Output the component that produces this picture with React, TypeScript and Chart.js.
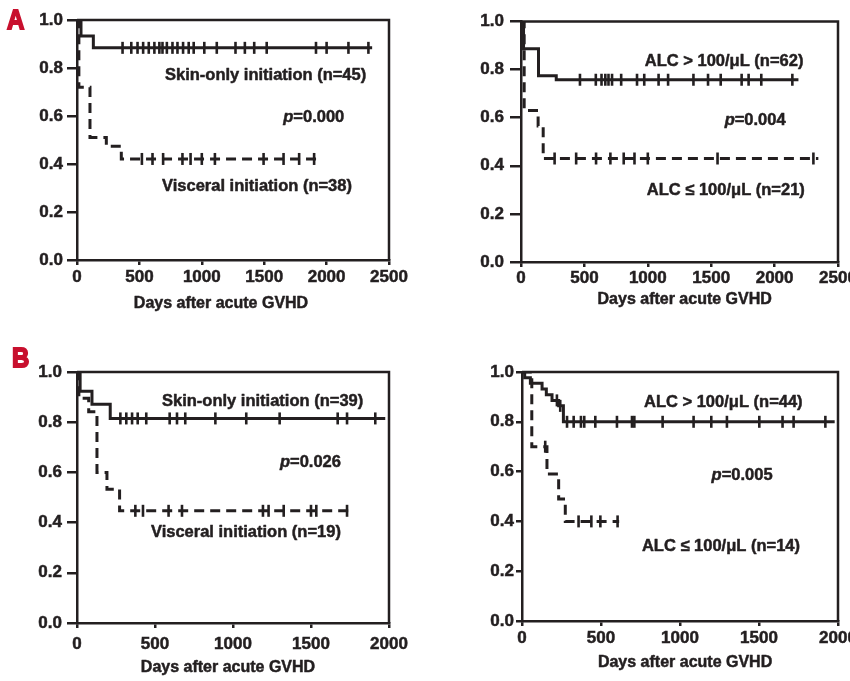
import React, { useEffect, useRef } from 'react';
import { Chart, registerables } from 'chart.js';

Chart.register(...registerables);

const INK = '#231f20';
const RED = '#c8102e';
const FONT = "'Liberation Sans', Arial, sans-serif";

// ---------------- data: panel A, left (initiation site) ----------------
const aSkinTimes = [0, 32, 131, 2365];
const aSkinSurv = [1.0, 0.933, 0.884, 0.884];
const aSkinCensored = [365, 435, 485, 530, 575, 620, 660, 685, 720, 765, 805, 850, 895, 935, 1020, 1120, 1270, 1345, 1420, 1520, 1915, 2000, 2175, 2335];
const aVisTimes = [0, 15, 104, 235, 355, 1945];
const aVisSurv = [1.0, 0.72, 0.51, 0.474, 0.421, 0.421];
const aVisCensored = [520, 605, 690, 845, 910, 1000, 1105, 1495, 1655, 1780, 1900];

// ---------------- data: panel A, right (ALC) ----------------
const aHiTimes = [0, 20, 138, 278, 2188];
const aHiSurv = [1.0, 0.887, 0.774, 0.758, 0.758];
const aHiCensored = [465, 590, 635, 665, 690, 718, 790, 915, 972, 1085, 1160, 1360, 1475, 1575, 1740, 1795, 1895, 2140];
const aLoTimes = [0, 25, 135, 175, 2345];
const aLoSurv = [1.0, 0.63, 0.565, 0.43, 0.43];
const aLoCensored = [265, 435, 592, 705, 810, 895, 1000, 1550, 2306];

// ---------------- data: panel B, left (initiation site) ----------------
const bSkinTimes = [0, 20, 96, 213, 1976];
const bSkinSurv = [1.0, 0.923, 0.872, 0.815, 0.815];
const bSkinCensored = [278, 316, 353, 389, 444, 594, 641, 694, 887, 1085, 1299, 1671, 1731, 1912];
const bVisTimes = [0, 12, 75, 128, 192, 273, 1761];
const bVisSurv = [1.0, 0.895, 0.842, 0.6, 0.533, 0.447, 0.447];
const bVisCensored = [374, 423, 587, 673, 1192, 1228, 1325, 1500, 1534, 1731];

// ---------------- data: panel B, right (ALC) ----------------
const bHiTimes = [0, 17, 53, 127, 154, 190, 232, 262, 1979];
const bHiSurv = [1.0, 0.977, 0.955, 0.932, 0.909, 0.886, 0.864, 0.8, 0.8];
const bHiCensored = [221, 242, 285, 327, 373, 394, 464, 601, 696, 711, 890, 1086, 1198, 1297, 1502, 1649, 1719, 1920];
const bLoTimes = [0, 62, 158, 232, 274, 615];
const bLoSurv = [1.0, 0.7, 0.59, 0.49, 0.4, 0.4];
const bLoCensored = [147, 358, 439, 496, 605];

// ---------------- ticks & text ----------------
const xTicks2500 = [0, 500, 1000, 1500, 2000, 2500];
const xTicks2000 = [0, 500, 1000, 1500, 2000];
const yTicks = [0, 0.2, 0.4, 0.6, 0.8, 1.0];
const xTitle = 'Days after acute GVHD';
const labelsInitA = ['Skin-only initiation (n=45)', 'Visceral initiation (n=38)'];
const labelsAlcA = ['ALC > 100/\u03BCL (n=62)', 'ALC \u2264 100/\u03BCL (n=21)'];
const labelsInitB = ['Skin-only initiation (n=39)', 'Visceral initiation (n=19)'];
const labelsAlcB = ['ALC > 100/\u03BCL (n=44)', 'ALC \u2264 100/\u03BCL (n=14)'];
const pValues = ['0.000', '0.004', '0.026', '0.005'];

function survAt(times: number[], surv: number[], t: number) {
  let s = surv[0];
  for (let i = 0; i < times.length; i++) if (times[i] <= t) s = surv[i];
  return s;
}

function curve(times: number[], surv: number[], dashed: boolean) {
  return {
    type: 'line',
    data: times.map((t, i) => ({ x: t, y: surv[i] })),
    stepped: 'before',
    borderColor: INK,
    borderWidth: 3,
    borderDash: dashed ? [10, 6] : [],
    borderCapStyle: 'butt',
    borderJoinStyle: 'miter',
    pointRadius: 0,
    fill: false,
    tension: 0,
  };
}

function censor(times: number[], surv: number[], cens: number[]) {
  return {
    type: 'scatter',
    data: cens.map((t) => ({ x: t, y: survAt(times, surv, t) })),
    showLine: false,
    pointStyle: 'line',
    pointRotation: 90,
    pointRadius: 6,
    pointBorderWidth: 2.6,
    pointBorderColor: INK,
    pointBackgroundColor: INK,
  };
}

type Note = { text: string; x: number; y: number; p?: boolean };

type Spec = {
  key: string;
  left: number; top: number; w: number; h: number;
  yW: number; xH: number; padTop: number; padRight: number;
  xMax: number; xTicks: number[];
  yTickLen: number; yPad: number; xTickLen: number; xPad: number;
  datasets: any[];
  notes: Note[];
  titleX: number; titleDy: number;
  letter?: string; letterX?: number; letterY?: number;
};

const specs: Spec[] = [
  {
    key: 'A1', left: 0, top: 0, w: 425, h: 340,
    yW: 77, xH: 80, padTop: 20, padRight: 36,
    xMax: 2500, xTicks: xTicks2500,
    yTickLen: 10, yPad: 4, xTickLen: 5, xPad: 2,
    datasets: [
      curve(aVisTimes, aVisSurv, true), censor(aVisTimes, aVisSurv, aVisCensored),
      curve(aSkinTimes, aSkinSurv, false), censor(aSkinTimes, aSkinSurv, aSkinCensored),
    ],
    notes: [
      { text: labelsInitA[0], x: 705, y: 0.767 },
      { text: pValues[0], x: 1653, y: 0.592, p: true },
      { text: labelsInitA[1], x: 681, y: 0.308 },
    ],
    titleX: 1154, titleDy: 44,
    letter: 'A', letterX: 6, letterY: 30,
  },
  {
    key: 'A2', left: 425, top: 0, w: 440, h: 340,
    yW: 96, xH: 78, padTop: 21.5, padRight: 27,
    xMax: 2500, xTicks: xTicks2500,
    yTickLen: 11, yPad: 6, xTickLen: 5, xPad: 1,
    datasets: [
      curve(aLoTimes, aLoSurv, true), censor(aLoTimes, aLoSurv, aLoCensored),
      curve(aHiTimes, aHiSurv, false), censor(aHiTimes, aHiSurv, aHiCensored),
    ],
    notes: [
      { text: labelsAlcA[0], x: 976, y: 0.833 },
      { text: pValues[1], x: 1606, y: 0.59, p: true },
      { text: labelsAlcA[1], x: 992, y: 0.296 },
    ],
    titleX: 1291, titleDy: 38,
  },
  {
    key: 'B1', left: 0, top: 340, w: 425, h: 341,
    yW: 77, xH: 58, padTop: 32, padRight: 36,
    xMax: 2000, xTicks: xTicks2000,
    yTickLen: 10, yPad: 5, xTickLen: 5, xPad: 6,
    datasets: [
      curve(bVisTimes, bVisSurv, true), censor(bVisTimes, bVisSurv, bVisCensored),
      curve(bSkinTimes, bSkinSurv, false), censor(bSkinTimes, bSkinSurv, bSkinCensored),
    ],
    notes: [
      { text: labelsInitB[0], x: 545, y: 0.884 },
      { text: pValues[2], x: 1301, y: 0.639, p: true },
      { text: labelsInitB[1], x: 474, y: 0.359 },
    ],
    titleX: 968, titleDy: 44.7,
    letter: 'B', letterX: 11, letterY: 28,
  },
  {
    key: 'B2', left: 425, top: 340, w: 440, h: 341,
    yW: 97, xH: 60, padTop: 32, padRight: 27,
    xMax: 2000, xTicks: xTicks2000,
    yTickLen: 6, yPad: 2, xTickLen: 5, xPad: 2,
    datasets: [
      curve(bLoTimes, bLoSurv, true), censor(bLoTimes, bLoSurv, bLoCensored),
      curve(bHiTimes, bHiSurv, false), censor(bHiTimes, bHiSurv, bHiCensored),
    ],
    notes: [
      { text: labelsAlcB[0], x: 772, y: 0.877 },
      { text: pValues[3], x: 1200, y: 0.586, p: true },
      { text: labelsAlcB[1], x: 759, y: 0.298 },
    ],
    titleX: 1032, titleDy: 42,
  },
];

const NOTE_SIZE = 16.5;
const TICK_SIZE = 17;
const TITLE_SIZE = 16;

function heavyText(ctx: CanvasRenderingContext2D, text: string, x: number, y: number) {
  ctx.fillText(text, x, y);
  ctx.strokeText(text, x, y);
}

function buildConfig(spec: Spec): any {
  const decor = {
    id: 'decor',
    afterDraw(chart: any) {
      const { ctx, chartArea: a, scales } = chart;
      const xs = scales.x;
      const ys = scales.y;
      ctx.save();
      // top/right frame
      ctx.strokeStyle = INK;
      ctx.lineWidth = 2.5;
      ctx.beginPath();
      ctx.moveTo(a.left, a.top);
      ctx.lineTo(a.right, a.top);
      ctx.lineTo(a.right, a.bottom);
      ctx.stroke();
      // notes
      ctx.fillStyle = INK;
      ctx.strokeStyle = INK;
      ctx.lineWidth = 0.5;
      ctx.lineJoin = 'round';
      ctx.textBaseline = 'middle';
      ctx.textAlign = 'left';
      for (const n of spec.notes) {
        const px = xs.getPixelForValue(n.x);
        const py = ys.getPixelForValue(n.y);
        if (n.p) {
          ctx.font = `italic bold ${NOTE_SIZE}px ${FONT}`;
          heavyText(ctx, 'p', px, py);
          const w = ctx.measureText('p').width;
          ctx.font = `bold ${NOTE_SIZE}px ${FONT}`;
          heavyText(ctx, '=' + n.text, px + w, py);
        } else {
          ctx.font = `bold ${NOTE_SIZE}px ${FONT}`;
          heavyText(ctx, n.text, px, py);
        }
      }
      // axis title
      ctx.font = `bold ${TITLE_SIZE}px ${FONT}`;
      ctx.textAlign = 'center';
      heavyText(ctx, xTitle, xs.getPixelForValue(spec.titleX), a.bottom + spec.titleDy);
      // panel letter (condensed, heavy)
      if (spec.letter) {
        ctx.font = `bold 30px ${FONT}`;
        ctx.fillStyle = RED;
        ctx.strokeStyle = RED;
        ctx.lineWidth = 2;
        ctx.lineJoin = 'miter';
        ctx.textAlign = 'left';
        ctx.textBaseline = 'alphabetic';
        ctx.translate(spec.letterX + 1, spec.letterY - 1);
        ctx.scale(0.8, 0.95);
        heavyText(ctx, spec.letter, 0, 0);
      }
      ctx.restore();
    },
  };

  const tickFont = { family: FONT, size: TICK_SIZE, weight: 'bold' };
  const tickCommon = { font: tickFont, color: INK, textStrokeColor: INK, textStrokeWidth: 0.5 };

  return {
    type: 'line',
    data: { datasets: spec.datasets },
    options: {
      animation: false,
      responsive: false,
      maintainAspectRatio: false,
      events: [],
      layout: { padding: { left: 0, top: spec.padTop, right: spec.padRight, bottom: 0 } },
      plugins: { legend: { display: false }, tooltip: { enabled: false }, title: { display: false } },
      scales: {
        x: {
          type: 'linear',
          min: 0,
          max: spec.xMax,
          afterBuildTicks: (s: any) => { s.ticks = spec.xTicks.map((v) => ({ value: v })); },
          afterFit: (s: any) => { s.height = spec.xH; },
          ticks: { ...tickCommon, padding: spec.xPad, maxRotation: 0, autoSkip: false, callback: (v: any) => String(v) },
          grid: { drawOnChartArea: false, drawTicks: true, tickLength: spec.xTickLen, color: INK, lineWidth: 2.5 },
          border: { display: true, color: INK, width: 2.5 },
        },
        y: {
          type: 'linear',
          min: 0,
          max: 1,
          afterBuildTicks: (s: any) => { s.ticks = yTicks.map((v) => ({ value: v })); },
          afterFit: (s: any) => { s.width = spec.yW; },
          ticks: { ...tickCommon, padding: spec.yPad, callback: (v: any) => Number(v).toFixed(1) },
          grid: { drawOnChartArea: false, drawTicks: true, tickLength: spec.yTickLen, color: INK, lineWidth: 2.5 },
          border: { display: true, color: INK, width: 2.5 },
        },
      },
    },
    plugins: [decor],
  };
}

function Panel({ spec }: { spec: Spec }) {
  const ref = useRef<HTMLCanvasElement>(null);
  useEffect(() => {
    const chart = new Chart(ref.current as HTMLCanvasElement, buildConfig(spec));
    return () => chart.destroy();
  }, [spec]);
  return (
    <canvas
      ref={ref}
      width={spec.w}
      height={spec.h}
      style={{ position: 'absolute', left: spec.left, top: spec.top, width: spec.w, height: spec.h }}
    />
  );
}

export default function App() {
  return (
    <div style={{ position: 'absolute', left: 0, top: 0, width: 850, height: 681, overflow: 'hidden', background: '#fff' }}>
      {specs.map((s) => (
        <Panel key={s.key} spec={s} />
      ))}
    </div>
  );
}
